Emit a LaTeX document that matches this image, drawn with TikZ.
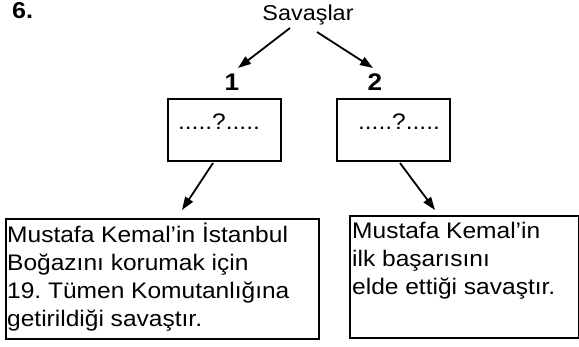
\documentclass[tikz,border=0pt]{standalone}
\usepackage{fontspec}
\setmainfont{Liberation Sans}[FakeStretch=1.09]
\usetikzlibrary{arrows.meta}
\frenchspacing
\begin{document}
\begin{tikzpicture}[x=1pt,y=-1pt,
  arr/.style={line width=1.8pt,-{Triangle[length=13pt,width=9pt]}},
  smallbox/.style={draw,line width=2.8pt,minimum width=113pt,minimum height=62pt,inner sep=0pt},
  bigbox/.style={draw,line width=2.4pt,anchor=north west,inner sep=0pt},
  txt/.style={font=\fontsize{22.5}{28}\selectfont,inner sep=0pt},
  num/.style={font=\bfseries\fontsize{24}{24}\selectfont,inner sep=0pt,anchor=base}]
\useasboundingbox (0,0) rectangle (579,346);
\node[font=\bfseries\fontsize{23}{23}\selectfont,anchor=base west,inner sep=0pt] (six) at (12,18) {6.};
\node[txt,font=\fontsize{21.5}{26}\selectfont,anchor=base] (sav) at (308,20) {Savaşlar};
\node[num] (n1) at (232,90) {1};
\node[num] (n2) at (375,90) {2};
\node[smallbox] (b1) at (224.5,130) {};
\node[smallbox] (b2) at (393.5,130) {};
\node[txt,anchor=base] (q1) at (219,129) {.....?.....};
\node[txt,anchor=base] (q2) at (399,129) {.....?.....};
\node[bigbox,minimum width=313pt,minimum height=120pt] (b3) at (5,218) {};
\node[bigbox,minimum width=229pt,minimum height=122pt] (b4) at (349,215) {};
\node[txt,anchor=north west,align=left] (t3) at (7,223) {Mustafa Kemal’in İstanbul\\Boğazını korumak için\\19. Tümen Komutanlığına\\getirildiği savaştır.};
\node[txt,anchor=north west,align=left] (t4) at (352,222) {Mustafa Kemal’in\\ilk başarısını\\elde ettiği savaştır.};
\coordinate (s1) at (290,28);
\coordinate (e1) at (238,68);
\coordinate (s2) at (317,32);
\coordinate (e2) at (373,68);
\coordinate (s3) at (213,163);
\coordinate (e3) at (182,210);
\coordinate (s4) at (400,163);
\coordinate (e4) at (435,210);
\draw[arr] (s1) -- (e1);
\draw[arr] (s2) -- (e2);
\draw[arr] (s3) -- (e3);
\draw[arr] (s4) -- (e4);
\end{tikzpicture}
\end{document}
